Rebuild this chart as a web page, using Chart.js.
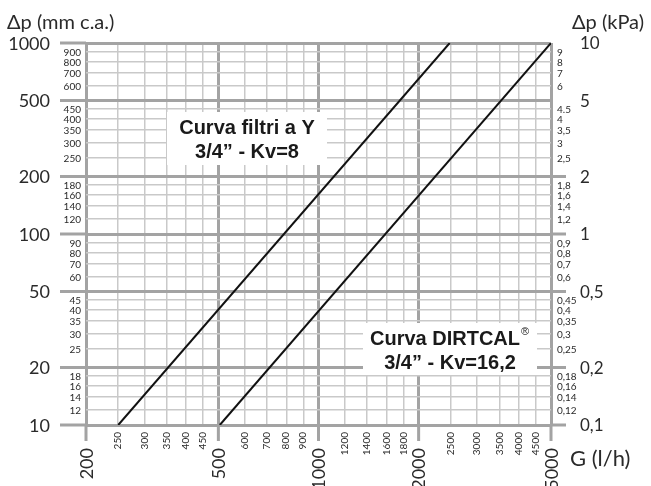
<!DOCTYPE html>
<html>
<head>
<meta charset="utf-8">
<script src="https://cdn.jsdelivr.net/npm/chart.js@4"></script>
<style>
  body { margin: 0; background: #fff; }
  canvas { display: block; }
</style>
</head>
<body>
<canvas id="chart" width="651" height="486"></canvas>
<script>
// curves (G in l/h, dp in mm c.a.)
const filtriG = [250, 2480];
const filtriDp = [10, 1000];
const dirtcalG = [505, 5000];
const dirtcalDp = [10, 1000];

// x axis ticks
const xMajor = [200, 500, 1000, 2000, 5000];
const xMinor = [250, 300, 350, 400, 450, 600, 700, 800, 900, 1200, 1400, 1600, 1800, 2500, 3000, 3500, 4000, 4500];

// left axis ticks (mm c.a.)
const yMajor = [10, 20, 50, 100, 200, 500, 1000];
const yMinor = [12, 14, 16, 18, 25, 30, 35, 40, 45, 60, 70, 80, 90, 120, 140, 160, 180, 250, 300, 350, 400, 450, 600, 700, 800, 900];

// right axis ticks (kPa)
const kpaMajor = [0.1, 0.2, 0.5, 1, 2, 5, 10];
const kpaMajorLabels = ["0,1", "0,2", "0,5", "1", "2", "5", "10"];
const kpaMinor = [0.12, 0.14, 0.16, 0.18, 0.25, 0.3, 0.35, 0.4, 0.45, 0.6, 0.7, 0.8, 0.9, 1.2, 1.4, 1.6, 1.8, 2.5, 3, 3.5, 4, 4.5, 6, 7, 8, 9];
const kpaMinorLabels = ["0,12", "0,14", "0,16", "0,18", "0,25", "0,3", "0,35", "0,4", "0,45", "0,6", "0,7", "0,8", "0,9", "1,2", "1,4", "1,6", "1,8", "2,5", "3", "3,5", "4", "4.5", "6", "7", "8", "9"];
const kpaStubs = [0.1, 0.2, 0.5, 1, 2];

const MAJOR = "#a3a3a3";
const MINOR = "#c9c9c9";
const TEXT = "#2a2a2a";
const FONT = "Lato, 'Noto Sans', sans-serif";

function toPoints(xs, ys) {
    return xs.map((x, i) => ({ x: x, y: ys[i] }));
}

function gridColor(majors) {
    return ctx => majors.includes(ctx.tick.value) ? MAJOR : MINOR;
}
function gridWidth(majors) {
    return ctx => majors.includes(ctx.tick.value) ? 3 : 1.5;
}

const extras = {
    id: "extras",
    afterDraw(chart) {
        const ctx = chart.ctx;
        const x = chart.scales.x;
        const y = chart.scales.y;
        const a = chart.chartArea;
        ctx.save();

        // major tick stubs outside the plot
        ctx.strokeStyle = MAJOR;
        ctx.lineWidth = 3;
        ctx.beginPath();
        yMajor.forEach(v => {
            const py = y.getPixelForValue(v);
            ctx.moveTo(60, py);
            ctx.lineTo(a.left, py);
        });
        xMajor.forEach(v => {
            const px = x.getPixelForValue(v);
            ctx.moveTo(px, a.bottom);
            ctx.lineTo(px, a.bottom + 16);
        });
        kpaStubs.forEach(v => {
            const py = y.getPixelForValue(v * 100);
            ctx.moveTo(a.right, py);
            ctx.lineTo(a.right + 15, py);
        });
        ctx.stroke();

        ctx.fillStyle = TEXT;
        ctx.textBaseline = "middle";

        // left labels
        ctx.textAlign = "right";
        ctx.font = "18px " + FONT;
        yMajor.forEach(v => ctx.fillText(String(v), 50, y.getPixelForValue(v) + 1));
        ctx.font = "10px " + FONT;
        yMinor.forEach(v => ctx.fillText(String(v), 81, y.getPixelForValue(v) + 1));

        // right labels
        ctx.textAlign = "left";
        ctx.font = "17px " + FONT;
        kpaMajor.forEach((v, i) => ctx.fillText(kpaMajorLabels[i], 580, y.getPixelForValue(v * 100) + 1));
        ctx.font = "10px " + FONT;
        kpaMinor.forEach((v, i) => ctx.fillText(kpaMinorLabels[i], 557, y.getPixelForValue(v * 100) + 1));

        // bottom labels, rotated
        ctx.textAlign = "right";
        xMinor.forEach(v => {
            ctx.save();
            ctx.translate(x.getPixelForValue(v), a.bottom + 7);
            ctx.rotate(-Math.PI / 2);
            ctx.font = "10px " + FONT;
            ctx.fillText(String(v), 0, 0);
            ctx.restore();
        });
        xMajor.forEach(v => {
            ctx.save();
            ctx.translate(x.getPixelForValue(v) + 1, a.bottom + 23);
            ctx.rotate(-Math.PI / 2);
            ctx.font = "18px " + FONT;
            ctx.fillText(String(v), 0, 0);
            ctx.restore();
        });

        // axis titles
        ctx.textBaseline = "alphabetic";
        ctx.textAlign = "left";
        ctx.font = "20px " + FONT;
        ctx.fillText("\u0394p (mm c.a.)", 7, 29);
        ctx.fillText("\u0394p (kPa)", 572, 29);
        ctx.font = "22px " + FONT;
        ctx.fillText("G (l/h)", 570, 466);

        // curve notes
        const boxes = [
            { l: 167, t: 112, r: 327, b: 165, lines: ["Curva filtri a Y", "3/4\u201D - Kv=8"], reg: false },
            { l: 363, t: 323, r: 537, b: 375, lines: ["Curva DIRTCAL", "3/4\u201D - Kv=16,2"], reg: true }
        ];
        boxes.forEach(bx => {
            ctx.fillStyle = "#fff";
            ctx.fillRect(bx.l, bx.t, bx.r - bx.l, bx.b - bx.t);
            ctx.fillStyle = "#1a1a1a";
            ctx.font = "bold 20px 'Liberation Sans', Arial, sans-serif";
            ctx.textAlign = "center";
            ctx.textBaseline = "alphabetic";
            const cx = (bx.l + bx.r) / 2;
            let w1 = ctx.measureText(bx.lines[0]).width;
            let shift = bx.reg ? -5 : 0;
            ctx.fillText(bx.lines[0], cx + shift, bx.t + 22);
            ctx.fillText(bx.lines[1], cx, bx.t + 46);
            if (bx.reg) {
                ctx.font = "11px 'Liberation Sans', Arial, sans-serif";
                ctx.textAlign = "left";
                ctx.fillText("\u00AE", cx + shift + w1 / 2 + 1, bx.t + 12);
            }
        });

        ctx.restore();
    }
};

new Chart(document.getElementById("chart"), {
    type: "scatter",
    data: {
        datasets: [
            { data: toPoints(filtriG, filtriDp), showLine: true, borderColor: "#111", borderWidth: 2, pointRadius: 0 },
            { data: toPoints(dirtcalG, dirtcalDp), showLine: true, borderColor: "#111", borderWidth: 2, pointRadius: 0 }
        ]
    },
    options: {
        responsive: false,
        animation: false,
        devicePixelRatio: 1,
        layout: { padding: { left: 86, top: 43, right: 100, bottom: 61 } },
        plugins: { legend: { display: false }, tooltip: { enabled: false } },
        scales: {
            x: {
                type: "logarithmic",
                min: 200,
                max: 5000,
                afterBuildTicks: s => { s.ticks = xMajor.concat(xMinor).map(v => ({ value: v })); },
                ticks: { display: false },
                border: { display: false },
                grid: { drawTicks: false, color: gridColor(xMajor), lineWidth: gridWidth(xMajor) }
            },
            y: {
                type: "logarithmic",
                min: 10,
                max: 1000,
                afterBuildTicks: s => { s.ticks = yMinor.concat(yMajor).map(v => ({ value: v })); },
                ticks: { display: false },
                border: { display: false },
                grid: { drawTicks: false, color: gridColor(yMajor), lineWidth: gridWidth(yMajor) }
            }
        }
    },
    plugins: [extras]
});
</script>
</body>
</html>
